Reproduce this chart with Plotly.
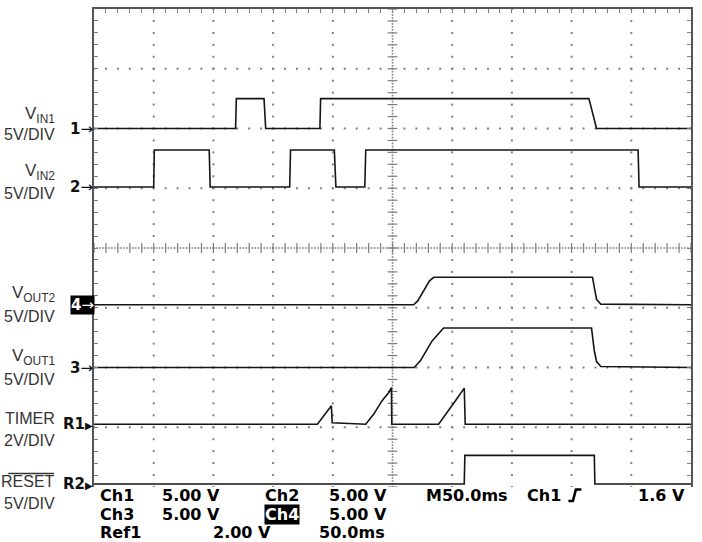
import numpy as np
import plotly.graph_objects as go

TIME_RANGE_MS = [0, 500]   # 10 div x 50 ms/div
DIV_RANGE = [-4, 4]        # 8 vertical divisions

# channel scale (V/div) and ground-marker position (div)
vin1_scale, vin1_offset = 5.0, 2.0
vin2_scale, vin2_offset = 5.0, 1.02
vout2_scale, vout2_offset = 5.0, -0.95
vout1_scale, vout1_offset = 5.0, -2.0
timer_scale, timer_offset = 2.0, -2.95
reset_scale, reset_offset = 5.0, -3.95

vin1_t = [0, 118.6, 119.2, 142.4, 143.8, 189.2, 189.8, 414.5, 420.9, 500]
vin1_v = [0, 0, 2.5, 2.5, 0, 0, 2.5, 2.5, 0, 0]

vin2_t = [0, 50.0, 50.5, 96.5, 97.3, 163.9, 164.6, 201.3, 202.6, 226.8, 227.6, 455.7, 456.5, 500]
vin2_v = [0, 0, 3.1, 3.1, 0, 0, 3.1, 3.1, 0, 0, 3.1, 3.1, 0, 0]

vout2_t = [0, 267.7, 271.0, 276.0, 281.0, 284.5, 417.5, 419.5, 420.9, 424.5, 500]
vout2_v = [0, 0, 0.3, 1.2, 2.0, 2.3, 2.3, 1.2, 0.45, 0.05, 0]

vout1_t = [0, 268.2, 273.6, 278.9, 283.0, 292.8, 416.7, 419.0, 420.9, 424.5, 500]
vout1_v = [0, 0, 0.6, 1.5, 2.2, 3.3, 3.3, 1.4, 0.5, 0.08, 0]

timer_t = [0, 187.1, 198.8, 199.5, 227.6, 234.3, 241.3, 246.9, 249.1, 249.4,
           288.6, 297.0, 302.6, 310.1, 310.9, 500]
timer_v = [0, 0, 0.62, 0.05, 0, 0.34, 0.79, 1.06, 1.23, 0,
           0, 0.45, 0.78, 1.21, 0, 0]

reset_t = [0, 310.1, 310.6, 419.0, 419.5, 500]
reset_v = [0, 0, 2.4, 2.4, 0, 0]

label_names = ["V<sub>IN1</sub>", "V<sub>IN2</sub>", "V<sub>OUT2</sub>",
               "V<sub>OUT1</sub>", "TIMER", "RESET"]
label_scales = ["5V/DIV", "5V/DIV", "5V/DIV", "5V/DIV", "2V/DIV", "5V/DIV"]
marker_names = ["1", "2", "4", "3", "R1", "R2"]

readout_row1 = ["Ch1", "5.00 V", "Ch2", "5.00 V", "M50.0ms", "Ch1", "1.6 V"]
readout_row2 = ["Ch3", "5.00 V", "Ch4", "5.00 V"]
readout_row3 = ["Ref1", "2.00 V", "50.0ms"]

# ---------------- figure ----------------
W, H = 702, 542
ML, MR, MT, MB = 94, 9, 9, 55
PW, PH = W - ML - MR, H - MT - MB


def px_x(px):
    return (px - ML) / PW


def px_y(py):
    return (H - MB - py) / PH


GRID = "#7f7f7f"
TRACE = "#151515"
FRAME = "#555555"

fig = go.Figure()

# graticule dots
gx, gy = [], []
for t in np.arange(50, 500, 50):
    if t == 250:
        continue
    for y in np.arange(-4, 4.001, 0.2):
        gx.append(t)
        gy.append(y)
for yy in range(-3, 4):
    if yy == 0:
        continue
    for t in np.arange(0, 500.001, 10):
        gx.append(t)
        gy.append(yy)
fig.add_trace(go.Scatter(x=gx, y=gy, mode="markers", hoverinfo="skip",
                         marker=dict(symbol="square", size=2, color=GRID)))

# centre lines: dense dots + minor ticks
cx = [250] * len(np.arange(-4, 4.001, 0.05)) + list(np.arange(0, 500.001, 2.5))
cy = list(np.arange(-4, 4.001, 0.05)) + [0] * len(np.arange(0, 500.001, 2.5))
fig.add_trace(go.Scatter(x=cx, y=cy, mode="markers", hoverinfo="skip",
                         marker=dict(symbol="square", size=1.6, color=GRID)))
ty = np.arange(-4, 4.001, 0.2)
fig.add_trace(go.Scatter(x=[250] * len(ty), y=ty, mode="markers", hoverinfo="skip",
                         marker=dict(symbol="line-ew", size=7,
                                     line=dict(width=1.2, color=GRID))))
tx = np.arange(0, 500.001, 10)
fig.add_trace(go.Scatter(x=tx, y=[0] * len(tx), mode="markers", hoverinfo="skip",
                         marker=dict(symbol="line-ns", size=7,
                                     line=dict(width=1.2, color=GRID))))

# signal traces
signals = [
    (vin1_t, vin1_v, vin1_scale, vin1_offset),
    (vin2_t, vin2_v, vin2_scale, vin2_offset),
    (vout2_t, vout2_v, vout2_scale, vout2_offset),
    (vout1_t, vout1_v, vout1_scale, vout1_offset),
    (timer_t, timer_v, timer_scale, timer_offset),
    (reset_t, reset_v, reset_scale, reset_offset),
]
for t, v, sc, off in signals:
    fig.add_trace(go.Scatter(x=t, y=[off + val / sc for val in v], mode="lines",
                             hoverinfo="skip",
                             line=dict(color=TRACE, width=1.6)))

annotations = []
NAME_FONT = dict(family="Liberation Sans, Arial, sans-serif", size=17, color="#333333")
LABEL_FONT = dict(family="Liberation Sans, Arial, sans-serif", size=16, color="#333333")
name_y = [115.5, 171.5, 294, 357, 418.5, 481]
scale_y = [134.5, 193, 316, 379, 440.5, 503]
for name, ny, scl, sy in zip(label_names, name_y, label_scales, scale_y):
    annotations.append(dict(x=px_x(56), y=px_y(ny), xref="paper", yref="paper",
                            text=name, showarrow=False, xanchor="right",
                            yanchor="middle", borderpad=0,
                            font=NAME_FONT if name.startswith("V") else LABEL_FONT))
    annotations.append(dict(x=px_x(56), y=px_y(sy), xref="paper", yref="paper",
                            text=scl, showarrow=False, xanchor="right",
                            yanchor="middle", borderpad=0, font=LABEL_FONT))

offsets = [vin1_offset, vin2_offset, vout2_offset, vout1_offset, timer_offset, reset_offset]
MARK_FONT = dict(family="DejaVu Sans", size=15, color="#111111")
for m, off in zip(marker_names, offsets):
    if m.startswith("R"):
        txt = "<b>" + m + "</b><span style='font-size:10px'>▶</span>"
    else:
        txt = "<b>" + m + "</b>→"
    ann = dict(x=0, y=off, xref="paper", yref="y", text=txt, showarrow=False,
               xanchor="right", yanchor="middle", xshift=1, font=MARK_FONT)
    if m == "4":
        ann.update(bgcolor="#000000", font=dict(family="DejaVu Sans", size=15, color="#ffffff"),
                   borderpad=0)
    annotations.append(ann)

# readout
RO_FONT = dict(family="DejaVu Sans", size=16, color="#000000")
row1_x = [99, 161, 265, 329, 426, 527, 639]
row2_x = [99, 161, 265, 329]
row3_x = [99, 212, 319]
for row, xs, yc in ((readout_row1, row1_x, 495), (readout_row2, row2_x, 514),
                    (readout_row3, row3_x, 532)):
    for txt, x0 in zip(row, xs):
        a = dict(x=px_x(x0), y=px_y(yc), xref="paper", yref="paper",
                 text="<b>" + txt + "</b>", showarrow=False, xanchor="left",
                 yanchor="middle", font=RO_FONT, borderpad=0)
        if row is readout_row2 and txt == "Ch4":
            a.update(bgcolor="#000000", font=dict(family="DejaVu Sans", size=16, color="#ffffff"))
        annotations.append(a)

shapes = [
    # overline of RESET
    dict(type="line", xref="paper", yref="paper", x0=px_x(8), x1=px_x(54),
         y0=px_y(473.5), y1=px_y(473.5), line=dict(color="#333333", width=1.3)),
    # rising-edge trigger symbol
    dict(type="path", xref="paper", yref="paper",
         path="M {} {} L {} {} L {} {} L {} {}".format(
             px_x(570), px_y(501), px_x(574.5), px_y(501),
             px_x(577.5), px_y(489.5), px_x(583), px_y(489.5)),
         line=dict(color="#000000", width=2.6)),
]

fig.update_layout(
    width=W, height=H, autosize=False,
    margin=dict(l=ML, r=MR, t=MT, b=MB, pad=0),
    paper_bgcolor="#ffffff", plot_bgcolor="#ffffff",
    showlegend=False,
    annotations=annotations,
    shapes=shapes,
    xaxis=dict(range=TIME_RANGE_MS, side="top", showgrid=False, zeroline=False,
               showline=True, linecolor=FRAME, linewidth=2,
               ticks="inside", ticklen=4, tickwidth=1.3, tickcolor=GRID,
               tick0=0, dtick=10, showticklabels=False, fixedrange=True),
    yaxis=dict(range=DIV_RANGE, showgrid=False, zeroline=False,
               showline=True, mirror="ticks", linecolor=FRAME, linewidth=2,
               ticks="inside", ticklen=4, tickwidth=1.3, tickcolor=GRID,
               tick0=-4, dtick=0.2, showticklabels=False, fixedrange=True),
)

fig.write_html("out.html", config={"displayModeBar": False},
               post_script="document.body.style.margin='0px';")
